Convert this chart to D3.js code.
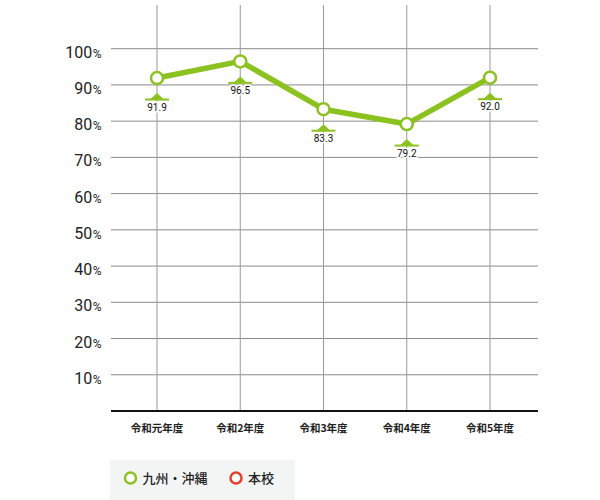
<!DOCTYPE html>
<html>
<head>
<meta charset="utf-8">
<script src="https://cdn.jsdelivr.net/npm/d3@7"></script>
<style>
  body { margin: 0; background: #fff; }
  svg { display: block; font-family: "Noto Sans CJK JP", "Noto Sans", sans-serif; }
</style>
</head>
<body>
<svg class="chart"></svg>
<script>
// data
const categories = ["令和元年度", "令和2年度", "令和3年度", "令和4年度", "令和5年度"]
const kyushuValues = [91.9, 96.5, 83.3, 79.2, 92.0]
const schoolValues = []   // 本校: no values drawn
const yTicks = [10, 20, 30, 40, 50, 60, 70, 80, 90, 100]
const legendItems = ["九州・沖縄", "本校"]

// dimensions
const w = 600
const h = 500
const margin = { top: 5, right: 62, bottom: 89, left: 111 }
const green = "#8cc21f"
const red = "#e8402a"

const svg = d3.select(".chart")
    .attr("width", w)
    .attr("height", h)

// scales
const xScale = d3.scalePoint()
    .domain(categories)
    .range([157, 490])
const yScale = d3.scaleLinear()
    .domain([0, 100])
    .range([411, 48.7])

// horizontal grid
svg.append("g")
    .selectAll("line")
    .data(yTicks)
    .join("line")
    .attr("x1", margin.left)
    .attr("x2", w - margin.right)
    .attr("y1", d => yScale(d))
    .attr("y2", d => yScale(d))
    .attr("stroke", "#8a8a8a")
    .attr("stroke-width", 1)

// vertical grid
svg.append("g")
    .selectAll("line")
    .data(categories)
    .join("line")
    .attr("x1", d => xScale(d))
    .attr("x2", d => xScale(d))
    .attr("y1", margin.top)
    .attr("y2", yScale(0))
    .attr("stroke", "#9a9a9a")
    .attr("stroke-width", 1)

// baseline
svg.append("line")
    .attr("x1", margin.left)
    .attr("x2", w - margin.right)
    .attr("y1", yScale(0))
    .attr("y2", yScale(0))
    .attr("stroke", "#111")
    .attr("stroke-width", 2.2)

// y labels
const yLab = svg.append("g")
    .selectAll("text")
    .data(yTicks)
    .join("text")
    .attr("x", 101.5)
    .attr("y", d => yScale(d) + 9)
    .attr("text-anchor", "end")
    .attr("fill", "#222")
    .style("font-family", "Roboto, 'Noto Sans', sans-serif")
yLab.append("tspan")
    .style("font-size", "16px")
    .text(d => d)
yLab.append("tspan")
    .style("font-size", "12px")
    .attr("dx", 0.5)
    .text("%")

// x labels
svg.append("g")
    .selectAll("text")
    .data(categories)
    .join("text")
    .attr("x", d => xScale(d))
    .attr("y", 432)
    .attr("text-anchor", "middle")
    .attr("fill", "#222")
    .style("font-size", "10.5px")
    .style("font-weight", "bold")
    .text(d => d)

// line
const pts = categories.map((c, i) => ({ cat: c, v: kyushuValues[i] }))
const line = d3.line()
    .x(d => xScale(d.cat))
    .y(d => yScale(d.v))

svg.append("path")
    .attr("d", line(pts))
    .attr("fill", "none")
    .attr("stroke", green)
    .attr("stroke-width", 5.5)
    .attr("stroke-linejoin", "round")

// value markers (triangle + bar + label)
const mk = svg.append("g")
    .selectAll("g")
    .data(pts)
    .join("g")
    .attr("transform", d => `translate(${xScale(d.cat)}, ${yScale(d.v)})`)
mk.append("path")
    .attr("d", "M0,15 L7,21.5 L-7,21.5 Z")
    .attr("fill", green)
mk.append("rect")
    .attr("x", -12)
    .attr("y", 20.5)
    .attr("width", 24)
    .attr("height", 2)
    .attr("fill", green)
mk.append("text")
    .attr("y", 32.5)
    .attr("text-anchor", "middle")
    .attr("fill", "#111")
    .attr("stroke", "#fff")
    .attr("stroke-width", 3)
    .attr("paint-order", "stroke")
    .style("font-family", "Roboto, 'Noto Sans', sans-serif")
    .style("font-size", "10px")
    .text(d => d.v.toFixed(1))

// points
svg.append("g")
    .selectAll("circle")
    .data(pts)
    .join("circle")
    .attr("cx", d => xScale(d.cat))
    .attr("cy", d => yScale(d.v))
    .attr("r", 6)
    .attr("fill", "#fff")
    .attr("stroke", green)
    .attr("stroke-width", 2.5)

// legend
svg.append("rect")
    .attr("x", 110)
    .attr("y", 460)
    .attr("width", 185)
    .attr("height", 40)
    .attr("fill", "#f3f5f5")
const leg = svg.append("g")
    .selectAll("g")
    .data(legendItems)
    .join("g")
    .attr("transform", (d, i) => `translate(${i === 0 ? 130.5 : 236}, 478)`)
leg.append("circle")
    .attr("r", 5.5)
    .attr("fill", "#fff")
    .attr("stroke", (d, i) => i === 0 ? green : red)
    .attr("stroke-width", 2.5)
leg.append("text")
    .attr("x", 12)
    .attr("y", 5)
    .attr("fill", "#222")
    .style("font-size", "13px")
    .style("font-weight", "500")
    .text(d => d)
</script>
</body>
</html>
